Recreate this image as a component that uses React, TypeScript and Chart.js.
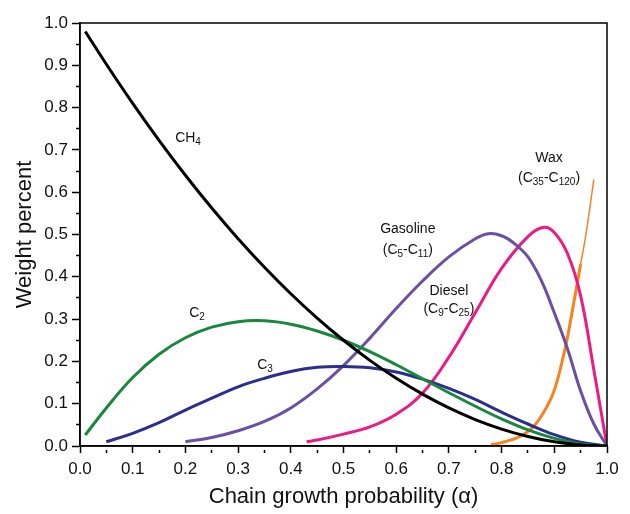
import React, { useEffect, useRef } from "react";
import { Chart, registerables } from "chart.js";

Chart.register(...registerables);

// ---- data ----
const alphaC1C2 = [0.01, 0.05, 0.1, 0.15, 0.2, 0.25, 0.3, 0.35, 0.4, 0.45, 0.5, 0.55, 0.6, 0.65, 0.7, 0.75, 0.8, 0.85, 0.9, 0.95, 1.0];
const ch4 = [0.98, 0.9025, 0.81, 0.7225, 0.64, 0.5625, 0.49, 0.4225, 0.36, 0.3025, 0.25, 0.2025, 0.16, 0.1225, 0.09, 0.0625, 0.04, 0.0225, 0.01, 0.0025, 0.0];
const c2 = [0.026, 0.09, 0.162, 0.217, 0.256, 0.281, 0.294, 0.296, 0.288, 0.272, 0.25, 0.223, 0.192, 0.159, 0.126, 0.094, 0.064, 0.038, 0.018, 0.005, 0.0];

const alphaC3 = [0.05, 0.1, 0.15, 0.2, 0.25, 0.3, 0.35, 0.4, 0.45, 0.5, 0.55, 0.6, 0.65, 0.7, 0.75, 0.8, 0.85, 0.9, 0.95, 1.0];
const c3 = [0.01, 0.03, 0.055, 0.085, 0.113, 0.14, 0.16, 0.176, 0.186, 0.188, 0.185, 0.175, 0.158, 0.136, 0.11, 0.08, 0.052, 0.027, 0.009, 0.0];

const alphaGasoline = [0.2, 0.25, 0.3, 0.35, 0.4, 0.45, 0.5, 0.55, 0.6, 0.65, 0.7, 0.75, 0.775, 0.8, 0.825, 0.85, 0.875, 0.9, 0.925, 0.95, 0.975, 1.0];
const gasoline = [0.01, 0.02, 0.036, 0.058, 0.09, 0.135, 0.19, 0.255, 0.325, 0.39, 0.447, 0.49, 0.502, 0.497, 0.478, 0.447, 0.392, 0.315, 0.23, 0.13, 0.052, 0.0];

const alphaDiesel = [0.43, 0.45, 0.5, 0.55, 0.6, 0.65, 0.7, 0.75, 0.8, 0.85, 0.88, 0.9, 0.925, 0.95, 0.975, 1.0];
const diesel = [0.01, 0.014, 0.028, 0.045, 0.075, 0.125, 0.21, 0.315, 0.42, 0.495, 0.517, 0.505, 0.455, 0.355, 0.18, 0.0];

const alphaWax = [0.78, 0.8, 0.82, 0.84, 0.86, 0.88, 0.9, 0.92, 0.93, 0.94, 0.95, 0.96, 0.975];
const wax = [0.003, 0.008, 0.015, 0.026, 0.045, 0.08, 0.132, 0.228, 0.29, 0.36, 0.43, 0.5, 0.63];

// curve labels: [text, subscript] pairs, placed in data coordinates
const labelParts: [string, boolean][][] = [
  [["CH", false], ["4", true]],
  [["C", false], ["2", true]],
  [["C", false], ["3", true]],
  [["Gasoline", false]],
  [["(C", false], ["5", true], ["-C", false], ["11", true], [")", false]],
  [["Diesel", false]],
  [["(C", false], ["9", true], ["-C", false], ["25", true], [")", false]],
  [["Wax", false]],
  [["(C", false], ["35", true], ["-C", false], ["120", true], [")", false]],
];
const labelX = [0.205, 0.222, 0.351, 0.622, 0.622, 0.70, 0.70, 0.89, 0.89];
const labelY = [0.728, 0.314, 0.191, 0.513, 0.463, 0.366, 0.324, 0.681, 0.634];

const FONT = "'Liberation Sans', Arial, sans-serif";

function pts(xs: number[], ys: number[]) {
  return xs.map((x, i) => ({ x, y: ys[i] }));
}

const framePlugin = {
  id: "frame",
  afterDatasetsDraw(chart: any) {
    const { ctx, chartArea } = chart;
    ctx.save();
    ctx.strokeStyle = "#000";
    ctx.lineWidth = 1.5;
    ctx.strokeRect(chartArea.left, chartArea.top, chartArea.right - chartArea.left, chartArea.bottom - chartArea.top);
    ctx.restore();
  },
};

const labelPlugin = {
  id: "curveLabels",
  afterDatasetsDraw(chart: any) {
    const { ctx } = chart;
    const xs = chart.scales.x;
    const ys = chart.scales.y;
    ctx.save();
    ctx.fillStyle = "#111";
    ctx.textBaseline = "middle";
    ctx.textAlign = "left";
    labelParts.forEach((parts, i) => {
      const cx = xs.getPixelForValue(labelX[i]);
      const cy = ys.getPixelForValue(labelY[i]);
      let total = 0;
      const widths = parts.map(([t, sub]) => {
        ctx.font = (sub ? "10px " : "14px ") + FONT;
        const w = ctx.measureText(t).width;
        total += w;
        return w;
      });
      let x = cx - total / 2;
      parts.forEach(([t, sub], j) => {
        ctx.font = (sub ? "10px " : "14px ") + FONT;
        ctx.fillText(t, x, sub ? cy + 4 : cy);
        x += widths[j];
      });
    });
    ctx.restore();
  },
};

const isMajor = (v: number) => Math.round(v * 20) % 2 === 0;

export default function App() {
  const ref = useRef<HTMLCanvasElement | null>(null);
  useEffect(() => {
    if (!ref.current) return;
    const base = {
      showLine: true,
      pointRadius: 0,
      borderWidth: 3,
      fill: false,
      tension: 0.4,
    };
    const chart = new Chart(ref.current, {
      type: "scatter",
      data: {
        datasets: [
          { ...base, label: "CH4", data: pts(alphaC1C2, ch4), borderColor: "#000000" },
          { ...base, label: "C2", data: pts(alphaC1C2, c2), borderColor: "#17883e" },
          { ...base, label: "C3", data: pts(alphaC3, c3), borderColor: "#2b2e8e" },
          { ...base, label: "Gasoline", data: pts(alphaGasoline, gasoline), borderColor: "#6b4fa3" },
          { ...base, label: "Diesel", data: pts(alphaDiesel, diesel), borderColor: "#ec1b84" },
          {
            ...base,
            label: "Wax",
            data: pts(alphaWax, wax),
            borderColor: "#f7821e",
            segment: { borderWidth: (c: any) => (c.p0.parsed.y >= 0.43 ? 1.5 : 3) },
          },
        ],
      },
      options: {
        animation: false,
        responsive: true,
        maintainAspectRatio: false,
        layout: { padding: { top: 23, right: 23, left: 0, bottom: 0 } },
        plugins: { legend: { display: false }, tooltip: { enabled: false } },
        scales: {
          x: {
            type: "linear",
            min: 0,
            max: 1,
            afterFit: (s: any) => { s.height = 68; },
            border: { display: true, color: "#000", width: 1.5 },
            grid: {
              display: true,
              drawOnChartArea: false,
              drawTicks: true,
              tickLength: 7,
              tickWidth: 1.5,
              tickColor: "#000",
              tickBorderDash: (c: any) => (c.tick && isMajor(c.tick.value) ? [] : [0, 3.5, 3.5, 100]),
            },
            ticks: {
              stepSize: 0.05,
              autoSkip: false,
              maxRotation: 0,
              padding: 6,
              color: "#111",
              font: { family: FONT, size: 17 },
              callback: (v: any) => (isMajor(Number(v)) ? Number(v).toFixed(1) : ""),
            },
            title: {
              display: true,
              text: "Chain growth probability (α)",
              color: "#111",
              font: { family: FONT, size: 22 },
              padding: { top: 0, bottom: 4 },
            },
          },
          y: {
            type: "linear",
            min: 0,
            max: 1,
            afterFit: (s: any) => { s.width = 80; },
            border: { display: true, color: "#000", width: 1.5 },
            grid: {
              display: true,
              drawOnChartArea: false,
              drawTicks: true,
              tickLength: 8,
              tickWidth: 1.5,
              tickColor: "#000",
              tickBorderDash: (c: any) => (c.tick && isMajor(c.tick.value) ? [] : [0, 4, 4, 100]),
            },
            ticks: {
              stepSize: 0.05,
              autoSkip: false,
              padding: 4,
              color: "#111",
              font: { family: FONT, size: 17 },
              callback: (v: any) => (isMajor(Number(v)) ? Number(v).toFixed(1) : ""),
            },
            title: {
              display: true,
              text: "Weight percent",
              color: "#111",
              font: { family: FONT, size: 22 },
              padding: { top: 12, bottom: 0 },
            },
          },
        },
      },
      plugins: [framePlugin, labelPlugin],
    } as any);
    return () => chart.destroy();
  }, []);
  return (
    <div style={{ position: "fixed", left: 0, top: 0, width: 630, height: 514, background: "#fff" }}>
      <canvas ref={ref} />
    </div>
  );
}
